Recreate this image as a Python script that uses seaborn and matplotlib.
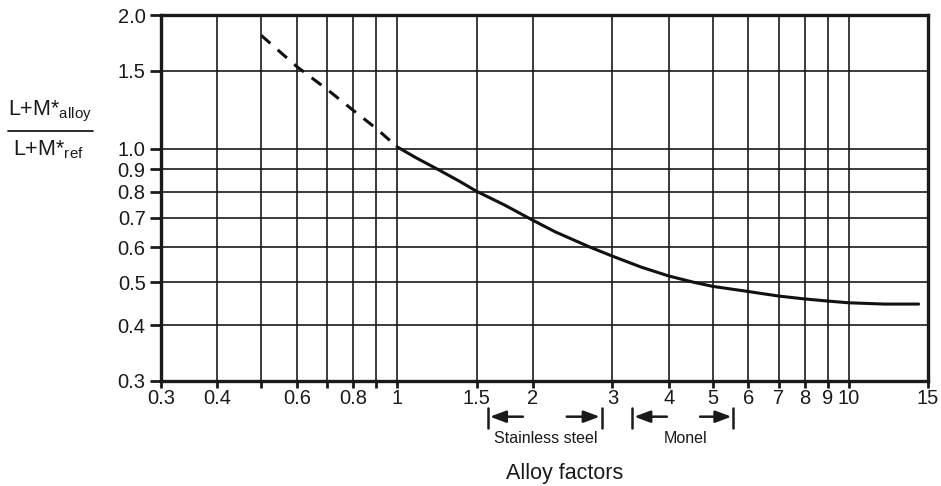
import matplotlib
matplotlib.use("Agg")
import matplotlib.pyplot as plt
import seaborn as sns
import pandas as pd
from matplotlib.lines import Line2D

# ---- data ----
dashed_x = [0.5, 0.6, 0.7, 0.8, 0.9, 1.0]
dashed_y = [1.80, 1.53, 1.36, 1.22, 1.11, 1.01]
solid_x = [1.0, 1.1, 1.24, 1.38, 1.5, 1.73, 2.0, 2.24, 2.68, 3.0, 3.48, 4.0, 4.52, 5.0,
           6.0, 7.0, 8.0, 9.0, 10.0, 12.0, 14.3]
solid_y = [1.01, 0.955, 0.895, 0.843, 0.802, 0.747, 0.69, 0.65, 0.60, 0.573, 0.541, 0.517, 0.501, 0.490,
           0.477, 0.466, 0.459, 0.454, 0.450, 0.447, 0.447]

x_ticks = [0.3, 0.4, 0.5, 0.6, 0.7, 0.8, 0.9, 1, 1.5, 2, 3, 4, 5, 6, 7, 8, 9, 10, 15]
x_labels = ["0.3", "0.4", "", "0.6", "", "0.8", "", "1", "1.5", "2", "3", "4", "5", "6", "7", "8", "9", "10", "15"]
y_ticks = [0.3, 0.4, 0.5, 0.6, 0.7, 0.8, 0.9, 1.0, 1.5, 2.0]
y_labels = ["0.3", "0.4", "0.5", "0.6", "0.7", "0.8", "0.9", "1.0", "1.5", "2.0"]

ranges = {"Stainless steel": (1.59, 2.84), "Monel": (3.32, 5.56)}
arrow_tails = {"Stainless steel": (1.90, 2.376), "Monel": (3.96, 4.69)}
label_x = {"Stainless steel": 2.14, "Monel": 4.36}

# ---- style ----
sns.set_theme(style="white")
plt.rcParams["font.family"] = ["Liberation Sans", "DejaVu Sans"]
plt.rcParams["mathtext.fontset"] = "custom"
plt.rcParams["mathtext.rm"] = "Liberation Sans"
plt.rcParams["mathtext.it"] = "Liberation Sans:italic"
plt.rcParams["mathtext.bf"] = "Liberation Sans:bold"

INK = "#1a1a1a"
W, H = 941, 486
fig = plt.figure(figsize=(W / 100, H / 100), dpi=100)
ax = fig.add_axes([161 / W, 1 - 381 / H, (928 - 161) / W, (381 - 15) / H])

df_d = pd.DataFrame({"x": dashed_x, "y": dashed_y})
df_s = pd.DataFrame({"x": solid_x, "y": solid_y})
sns.lineplot(data=df_d, x="x", y="y", ax=ax, color="#111111", lw=2.2,
             linestyle=(0, (4, 3.2)), sort=False, estimator=None)
sns.lineplot(data=df_s, x="x", y="y", ax=ax, color="#111111", lw=2.2,
             sort=False, estimator=None)

ax.set_xscale("log")
ax.set_yscale("log")
ax.set_xlim(0.3, 15)
ax.set_ylim(0.3, 2.0)
ax.minorticks_off()
ax.set_xticks(x_ticks)
ax.set_xticklabels(x_labels)
ax.set_yticks(y_ticks)
ax.set_yticklabels(y_labels)
ax.minorticks_off()
ax.set_xlabel("")
ax.set_ylabel("")

ax.grid(True, which="major", color=INK, lw=1.2)
ax.set_axisbelow(True)
for s in ax.spines.values():
    s.set_color(INK)
    s.set_linewidth(2.4)

ax.tick_params(axis="x", which="major", direction="out", length=5, width=2,
               color=INK, pad=1, labelsize=14.5, labelcolor=INK, bottom=True)
ax.tick_params(axis="y", which="major", direction="out", length=8, width=2,
               color=INK, pad=3, labelsize=14.5, labelcolor=INK, left=True)

# range annotations below axis
trans = ax.get_xaxis_transform()
for name, (a, b) in ranges.items():
    for xv in (a, b):
        ax.add_line(Line2D([xv, xv], [-0.075, -0.128], transform=trans,
                           color=INK, lw=1.8, clip_on=False))
    ta, tb = arrow_tails[name]
    ax.annotate("", xy=(a * 1.01, -0.0975), xytext=(ta, -0.0975),
                xycoords=trans, textcoords=trans,
                arrowprops=dict(arrowstyle="-|>,head_length=0.8,head_width=0.3",
                                lw=1.8, color=INK, shrinkA=0, shrinkB=0))
    ax.annotate("", xy=(b / 1.01, -0.0975), xytext=(tb, -0.0975),
                xycoords=trans, textcoords=trans,
                arrowprops=dict(arrowstyle="-|>,head_length=0.8,head_width=0.3",
                                lw=1.8, color=INK, shrinkA=0, shrinkB=0))
    ax.text(label_x[name], -0.156, name, transform=trans, ha="center", va="center",
            fontsize=11.5, color=INK)

fig.text(565 / W, 1 - 473 / H, "Alloy factors", ha="center", va="center",
         fontsize=15.5, color=INK)

# y-axis label as fraction
fig.text(8 / W, 1 - 115 / H, "L+M*${}_{\\mathrm{alloy}}$", ha="left", va="baseline",
         fontsize=15.5, color=INK)
fig.text(13 / W, 1 - 155 / H, "L+M*${}_{\\mathrm{ref}}$", ha="left", va="baseline",
         fontsize=15.5, color=INK)
fig.add_artist(Line2D([8 / W, 93 / W], [1 - 131 / H, 1 - 131 / H],
                      transform=fig.transFigure, color=INK, lw=1.3))

fig.savefig("out.png", dpi=100)
